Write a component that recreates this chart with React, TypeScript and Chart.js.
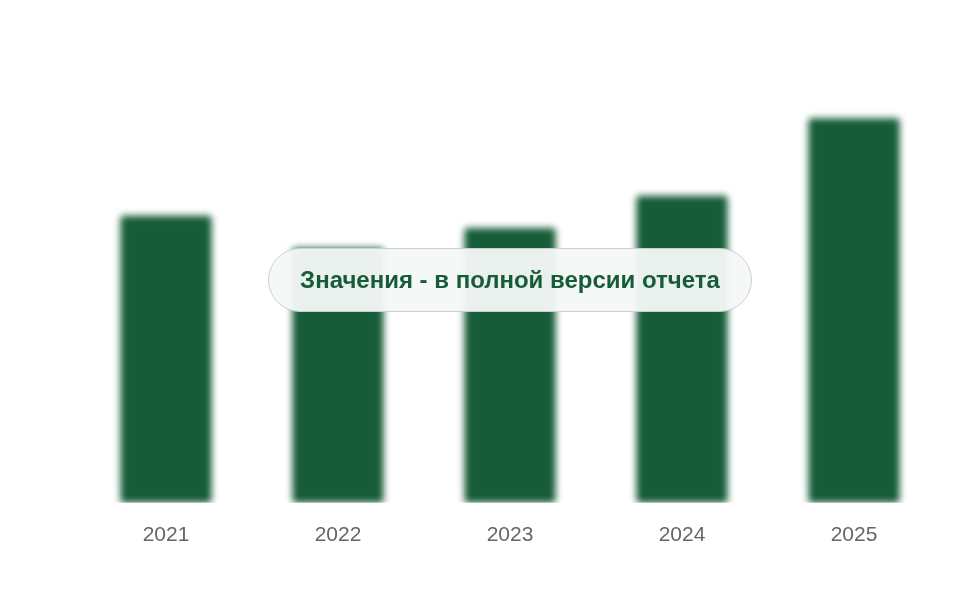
import React, { useEffect, useRef } from 'react';
import { Chart, registerables } from 'chart.js';

Chart.register(...registerables);

const years = ['2021', '2022', '2023', '2024', '2025'];
const values = [285, 253, 273, 305, 382];

const blurBars = {
  id: 'blurBars',
  beforeDatasetsDraw(chart: Chart) {
    chart.ctx.save();
    chart.ctx.filter = 'blur(3.5px)';
  },
  afterDatasetsDraw(chart: Chart) {
    chart.ctx.restore();
  },
};

const App: React.FC = () => {
  const ref = useRef<HTMLCanvasElement | null>(null);

  useEffect(() => {
    if (!ref.current) return;
    const chart = new Chart(ref.current, {
      type: 'bar',
      data: {
        labels: years,
        datasets: [
          {
            data: values,
            backgroundColor: '#165c38',
            barPercentage: 0.53,
            categoryPercentage: 1,
            borderRadius: 3,
            borderSkipped: false,
          },
        ],
      },
      options: {
        responsive: true,
        maintainAspectRatio: false,
        animation: false,
        layout: { padding: { left: 80, right: 20, top: 100, bottom: 40 } },
        plugins: { legend: { display: false }, tooltip: { enabled: false } },
        scales: {
          x: {
            grid: { display: false },
            border: { display: false },
            ticks: {
              color: '#666666',
              padding: 12,
              font: { family: 'Liberation Sans, Arial, sans-serif', size: 21 },
            },
          },
          y: {
            display: false,
            min: 0,
            max: 400,
          },
        },
      },
      plugins: [blurBars],
    });
    return () => chart.destroy();
  }, []);

  return (
    <div style={{ position: 'absolute', left: 0, top: 0, width: 960, height: 600, background: '#fff' }}>
      <canvas ref={ref} />
      <div
        style={{
          position: 'absolute',
          left: 268,
          top: 248,
          width: 484,
          height: 64,
          boxSizing: 'border-box',
          borderRadius: 32,
          border: '1.5px solid #c5d2ca',
          background: 'rgba(246, 248, 247, 0.95)',
          display: 'flex',
          alignItems: 'center',
          justifyContent: 'center',
          color: '#155c37',
          fontFamily: 'Liberation Sans, Arial, sans-serif',
          fontWeight: 'bold',
          fontSize: 24,
        }}
      >
        Значения - в полной версии отчета
      </div>
    </div>
  );
};

export default App;
